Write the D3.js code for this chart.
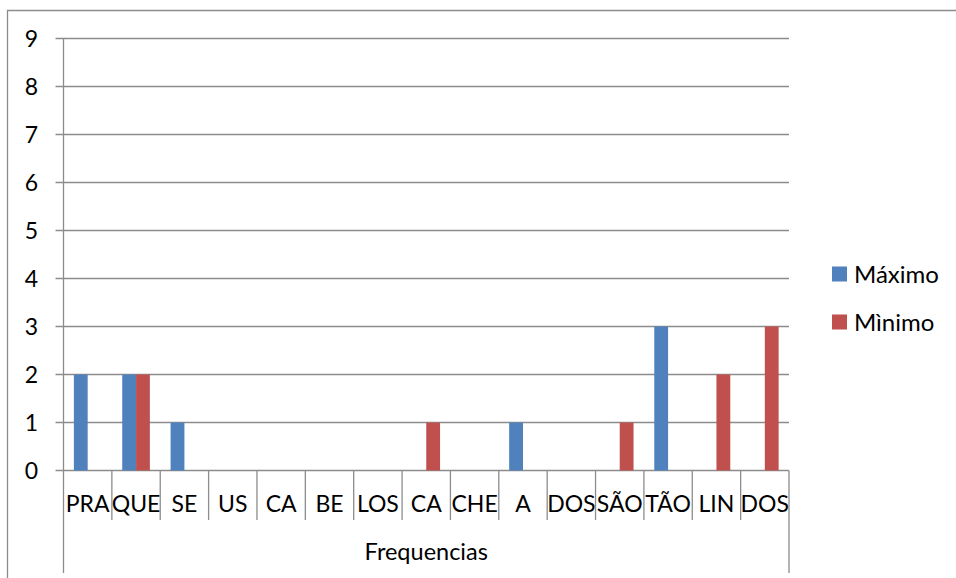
<!DOCTYPE html>
<html>
<head>
<meta charset="utf-8">
<script src="https://cdn.jsdelivr.net/npm/d3@7"></script>
<style>
  body { margin: 0; background: #fff; }
  text { font-family: Lato, "Open Sans", sans-serif; fill: #000; }
</style>
</head>
<body>
<div id="chart"></div>
<script>
const categories = ['PRA', 'QUE', 'SE', 'US', 'CA', 'BE', 'LOS', 'CA', 'CHE', 'A', 'DOS', 'SÃO', 'TÃO', 'LIN', 'DOS']
const maximo = [2, 2, 1, 0, 0, 0, 0, 0, 0, 1, 0, 0, 3, 0, 0]
const minimo = [0, 2, 0, 0, 0, 0, 0, 1, 0, 0, 0, 1, 0, 2, 3]
const seriesNames = ['Máximo', 'Mìnimo']
const yTicks = [0, 1, 2, 3, 4, 5, 6, 7, 8, 9]
const axisTitle = 'Frequencias'

const colors = ['#4F81BD', '#C0504D']
const gridColor = '#8c8c8c'

const width = 956
const height = 578
const plotLeft = 63.5
const plotRight = 789
const plotTop = 38.5
const plotBottom = 470.5

const svg = d3.select('#chart')
  .append('svg')
  .attr('width', width)
  .attr('height', height)

// chart frame (only left and top edges are in view)
svg.append('path')
  .attr('d', `M7.5,${height} V10.5 H${width}`)
  .attr('fill', 'none')
  .attr('stroke', gridColor)
  .attr('stroke-width', 1.3)

const x = d3.scaleBand().domain(d3.range(categories.length)).range([plotLeft, plotRight])
const y = d3.scaleLinear().domain([0, 9]).range([plotBottom, plotTop])

// gridlines + y ticks
svg.append('g')
  .selectAll('line')
  .data(yTicks)
  .enter()
  .append('line')
  .attr('x1', plotLeft - 8)
  .attr('x2', plotRight)
  .attr('y1', (d) => y(d))
  .attr('y2', (d) => y(d))
  .attr('stroke', gridColor)
  .attr('stroke-width', 1.3)

svg.append('g')
  .selectAll('text')
  .data(yTicks)
  .enter()
  .append('text')
  .attr('x', 38)
  .attr('y', (d) => y(d))
  .attr('dy', '0.36em')
  .attr('text-anchor', 'end')
  .style('font-size', '23px')
  .text((d) => d)

// y axis line, extends down to the outer category level
svg.append('line')
  .attr('x1', plotLeft).attr('x2', plotLeft)
  .attr('y1', plotTop).attr('y2', 573)
  .attr('stroke', gridColor).attr('stroke-width', 1.3)

svg.append('line')
  .attr('x1', plotRight).attr('x2', plotRight)
  .attr('y1', plotBottom).attr('y2', 573)
  .attr('stroke', gridColor).attr('stroke-width', 1.3)

// category dividers
svg.append('g')
  .selectAll('line')
  .data(d3.range(1, categories.length))
  .enter()
  .append('line')
  .attr('x1', (d) => x(d))
  .attr('x2', (d) => x(d))
  .attr('y1', plotBottom)
  .attr('y2', 520)
  .attr('stroke', gridColor)
  .attr('stroke-width', 1.3)

svg.append('g')
  .selectAll('text')
  .data(categories)
  .enter()
  .append('text')
  .attr('x', (d, i) => x(i) + x.bandwidth() / 2)
  .attr('y', 504)
  .attr('dy', '0.36em')
  .attr('text-anchor', 'middle')
  .style('font-size', '23px')
  .text((d) => d)

svg.append('text')
  .attr('x', (plotLeft + plotRight) / 2)
  .attr('y', 552)
  .attr('dy', '0.36em')
  .attr('text-anchor', 'middle')
  .style('font-size', '23.5px')
  .text(axisTitle)

// bars: gap width 150%
const barW = x.bandwidth() / 3.5
const series = [maximo, minimo]
series.forEach(function (vals, s) {
  svg.append('g')
    .selectAll('rect')
    .data(vals)
    .enter()
    .append('rect')
    .attr('x', (d, i) => x(i) + x.bandwidth() / 2 - barW + s * barW)
    .attr('width', barW)
    .attr('y', (d) => y(d))
    .attr('height', (d) => y(0) - y(d))
    .attr('fill', colors[s])
})

// legend
const legend = svg.append('g')
  .selectAll('g')
  .data(seriesNames)
  .enter()
  .append('g')
  .attr('transform', (d, i) => `translate(832, ${274 + i * 48})`)

legend.append('rect')
  .attr('x', 0).attr('y', -7.5)
  .attr('width', 15).attr('height', 15)
  .attr('fill', (d, i) => colors[i])

legend.append('text')
  .attr('x', 22)
  .attr('dy', '0.36em')
  .style('font-size', '24px')
  .text((d) => d)
</script>
</body>
</html>
